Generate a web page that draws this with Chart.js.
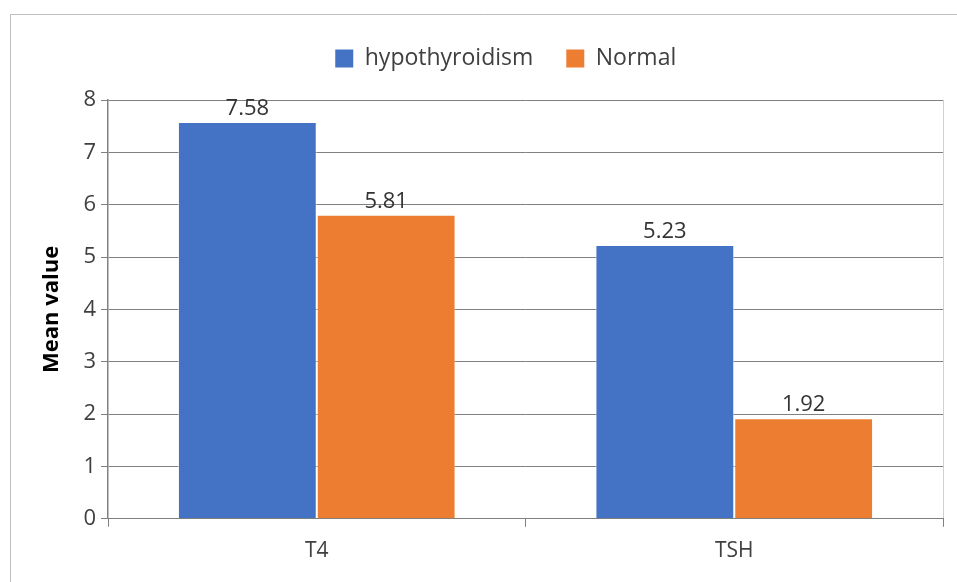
<!DOCTYPE html>
<html>
<head>
<meta charset="utf-8">
<script src="https://cdn.jsdelivr.net/npm/chart.js@4/dist/chart.umd.min.js"></script>
<style>
html,body{margin:0;padding:0;background:#fff;}
#wrap{position:relative;width:957px;height:582px;}
</style>
</head>
<body>
<div id="wrap"><canvas id="c" width="957" height="582"></canvas></div>
<script>
const categories = ["T4", "TSH"];
const hypothyroidism = [7.58, 5.23];
const normal = [5.81, 1.92];
const yTicks = [0, 1, 2, 3, 4, 5, 6, 7, 8];

const FONT = "'Open Sans', sans-serif";
const TEXT = "#404040";

const frame = {
  id: 'frame',
  beforeDraw(chart) {
    const ctx = chart.ctx;
    ctx.save();
    ctx.strokeStyle = '#bfbfbf';
    ctx.lineWidth = 1;
    ctx.beginPath();
    ctx.moveTo(10.5, 582);
    ctx.lineTo(10.5, 14.5);
    ctx.lineTo(957, 14.5);
    ctx.stroke();
    const a = chart.chartArea;
    ctx.strokeStyle = '#d0d0d0';
    ctx.beginPath();
    ctx.moveTo(Math.round(a.right) + 0.5, a.top);
    ctx.lineTo(Math.round(a.right) + 0.5, a.bottom);
    ctx.stroke();
    ctx.restore();
  }
};

const valueLabels = {
  id: 'valueLabels',
  afterDatasetsDraw(chart) {
    const ctx = chart.ctx;
    ctx.save();
    ctx.font = "22px " + FONT;
    ctx.fillStyle = '#333333';
    ctx.textAlign = 'center';
    ctx.textBaseline = 'alphabetic';
    chart.data.datasets.forEach((ds, i) => {
      chart.getDatasetMeta(i).data.forEach((bar, j) => {
        ctx.fillText(ds.data[j].toFixed(2), bar.x, bar.y - 7);
      });
    });
    ctx.restore();
  }
};

new Chart(document.getElementById('c'), {
  type: 'bar',
  data: {
    labels: categories,
    datasets: [
      { label: 'hypothyroidism', data: hypothyroidism, backgroundColor: '#4472C4', borderColor: 'rgba(255,255,255,0.6)', borderWidth: 1 },
      { label: 'Normal', data: normal, backgroundColor: '#ED7D31', borderColor: 'rgba(255,255,255,0.6)', borderWidth: 1 }
    ]
  },
  options: {
    responsive: false,
    animation: false,
    layout: { padding: { top: 14, right: 14, bottom: 6, left: 0 } },
    datasets: { bar: { categoryPercentage: 0.665, barPercentage: 1.0 } },
    plugins: {
      legend: {
        position: 'top',
        labels: {
          font: { family: FONT, size: 23 },
          color: TEXT,
          boxWidth: 18,
          boxHeight: 18,
          padding: 33,
          useBorderRadius: false,
          generateLabels(chart) {
            const items = chart.data.datasets.map((ds, i) => ({
              text: ds.label, fillStyle: ds.backgroundColor, strokeStyle: ds.backgroundColor,
              lineWidth: 0, datasetIndex: i, fontColor: TEXT
            }));
            // invisible leading spacer so the legend row sits where the reference has it
            items.unshift({ text: ' ', fillStyle: 'rgba(0,0,0,0)', strokeStyle: 'rgba(0,0,0,0)', lineWidth: 0, datasetIndex: -1, fontColor: TEXT });
            return items;
          }
        }
      },
      subtitle: {
        display: true, text: ' ', weight: 500, position: 'top',
        font: { size: 10 }, padding: { top: 4, bottom: 4 }
      },
      tooltip: { enabled: false }
    },
    scales: {
      x: {
        grid: { offset: true, drawOnChartArea: false, drawTicks: true, tickLength: 8, color: '#808080' },
        border: { color: '#808080', width: 1 },
        ticks: { font: { family: FONT, size: 21 }, color: TEXT, padding: 12 }
      },
      y: {
        min: 0, max: 8,
        afterBuildTicks(scale) { scale.ticks = yTicks.map(v => ({ value: v })); },
        afterFit(scale) { scale.width = 108; },
        grid: { color: '#808080', tickLength: 7 },
        border: { color: '#808080', width: 1.5 },
        ticks: { font: { family: FONT, size: 22 }, color: TEXT, padding: 5 },
        title: { display: true, text: 'Mean value', font: { family: FONT, size: 22, weight: 'bold' }, color: '#000', padding: { top: 39, bottom: 0 } }
      }
    }
  },
  plugins: [frame, valueLabels]
});
</script>
</body>
</html>
